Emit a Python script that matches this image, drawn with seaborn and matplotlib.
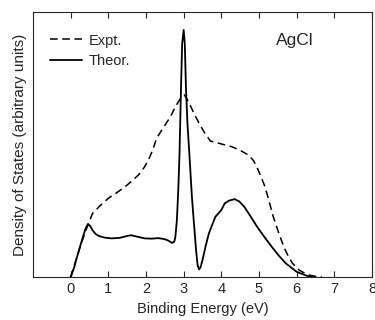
import numpy as np
import pandas as pd
import matplotlib
matplotlib.use("Agg")
import matplotlib.pyplot as plt
import seaborn as sns

# binding energy (eV) and density of states (arbitrary units)
theor_x = [0.0, 0.09, 0.17, 0.29, 0.4, 0.46, 0.52, 0.58, 0.66, 0.75, 0.9, 1.09,
           1.3, 1.5, 1.6, 1.75, 1.97, 2.15, 2.33, 2.5, 2.6, 2.69, 2.75, 2.78,
           2.82, 2.86, 2.89, 2.93, 2.96, 3.0, 3.03, 3.06, 3.1, 3.15, 3.22, 3.28,
           3.33, 3.37, 3.41, 3.45, 3.5, 3.58, 3.67, 3.84, 4.0, 4.09, 4.2, 4.35,
           4.48, 4.61, 4.78, 4.95, 5.15, 5.34, 5.52, 5.71, 6.0, 6.29, 6.5]
theor_y = [0.0, 3.5, 7.6, 13.5, 18.5, 20.0, 19.2, 17.7, 16.3, 15.5, 14.9, 14.6,
           14.8, 15.5, 15.8, 15.3, 14.6, 14.5, 14.7, 14.3, 13.7, 12.9, 13.3, 15.2,
           21.5, 34.0, 46.7, 71.8, 88.0, 93.2, 88.0, 71.8, 58.0, 46.7, 30.0, 19.0,
           10.0, 4.5, 2.9, 3.8, 6.4, 11.5, 16.5, 22.7, 25.3, 27.8, 28.8, 29.4,
           28.5, 26.5, 22.8, 19.0, 15.0, 11.4, 8.2, 5.2, 2.0, 0.4, 0.0]

expt_x = [0.0, 0.12, 0.25, 0.4, 0.58, 0.8, 1.0, 1.22, 1.44, 1.62, 1.8, 1.95,
          2.06, 2.18, 2.28, 2.4, 2.51, 2.65, 2.78, 2.9, 3.02, 3.15, 3.28, 3.41,
          3.55, 3.71, 4.0, 4.27, 4.5, 4.72, 4.85, 4.94, 5.05, 5.16, 5.27, 5.38,
          5.52, 5.66, 5.78, 5.89, 6.07, 6.2, 6.34, 6.5, 6.67]
expt_y = [0.0, 5.5, 11.4, 17.5, 24.0, 27.2, 29.7, 31.8, 34.0, 36.2, 38.5, 41.3,
          44.0, 48.0, 52.3, 55.0, 57.4, 60.5, 64.2, 67.0, 68.7, 65.5, 61.5, 58.0,
          54.5, 51.3, 50.2, 49.2, 47.8, 46.0, 44.0, 41.6, 38.0, 34.0, 28.5, 22.7,
          16.8, 11.4, 7.8, 5.2, 2.6, 1.6, 0.75, 0.3, 0.0]

xticks = [0, 1, 2, 3, 4, 5, 6, 7, 8]

sns.set_style("ticks")
plt.rcParams["font.family"] = ["Liberation Sans", "DejaVu Sans"]

expt = pd.DataFrame({"energy": expt_x, "dos": expt_y})
theor = pd.DataFrame({"energy": theor_x, "dos": theor_y})

fig = plt.figure(figsize=(3.75, 3.2), dpi=100)
ax = fig.add_axes([0.088, 0.134, 0.904, 0.829])

sns.lineplot(data=expt, x="energy", y="dos", ax=ax, color="black",
             linewidth=1.1, linestyle=(0, (5, 3)), label="Expt.")
sns.lineplot(data=theor, x="energy", y="dos", ax=ax, color="black",
             linewidth=1.3, label="Theor.")

ax.set_xlim(-1, 8)
ax.set_ylim(0, 100)
ax.set_xticks(xticks)
ax.set_yticks([])
ax.tick_params(axis="x", direction="in", top=True, length=4, labelsize=10.5)
for s in ax.spines.values():
    s.set_linewidth(0.8)

ax.set_xlabel("Binding Energy (eV)", fontsize=10.5)
ax.set_ylabel("Density of States (arbitrary units)", fontsize=11)
ax.text(5.44, 87.5, "AgCl", fontsize=12.5)

ax.legend(loc="upper left", bbox_to_anchor=(0.032, 0.94), frameon=False,
          fontsize=10.5, handlelength=2.2, handletextpad=0.5, borderaxespad=0,
          labelspacing=0.45)

fig.savefig("out.png", dpi=100)
